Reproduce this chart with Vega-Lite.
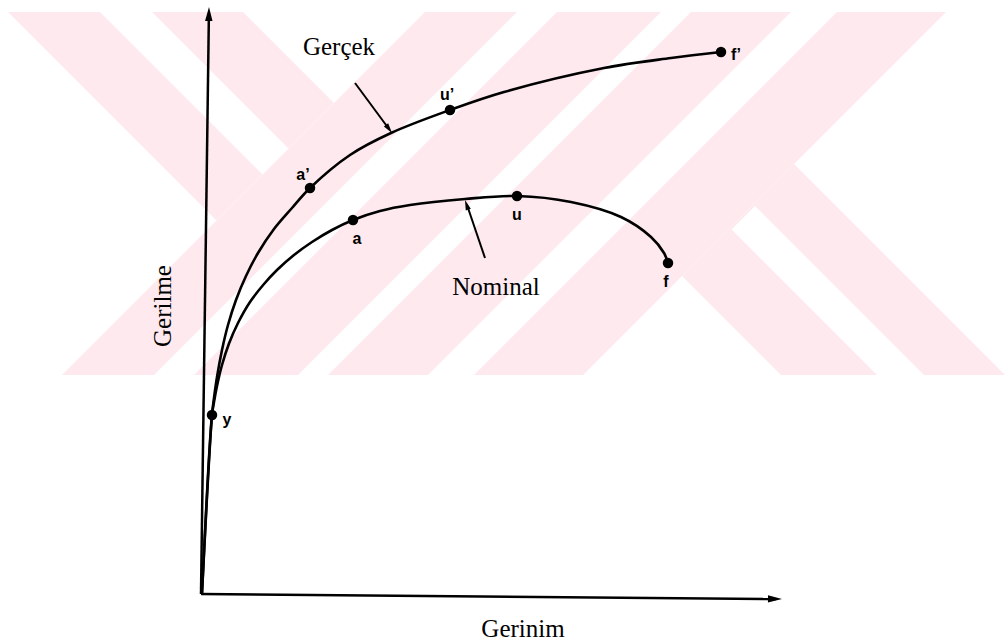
{
  "$schema": "https://vega.github.io/schema/vega-lite/v6.json",
  "width": 1008,
  "height": 643,
  "autosize": {"type": "fit", "contains": "padding"},
  "padding": 0,
  "background": "white",
  "config": {"view": {"stroke": null}},
  "datasets": {
    "watermarkBands": [
      {"part": "A", "stress": 582, "left": 224, "right": 745},
      {"part": "A", "stress": 219, "left": -139, "right": 382},
      {"part": "B", "stress": 582, "left": -193, "right": 42},
      {"part": "B", "stress": 491, "left": -102, "right": 133},
      {"part": "B", "stress": 373.5, "left": 15.5, "right": 15.5},
      {"part": "C", "stress": 430, "left": 593, "right": 593},
      {"part": "C", "stress": 318, "left": 481, "right": 705},
      {"part": "C", "stress": 219, "left": 580, "right": 804}
    ],
    "watermarkGaps": [
      {"part": "W1", "stress": 582, "left": 316, "right": 356},
      {"part": "W1", "stress": 219, "left": -47, "right": -7},
      {"part": "W2", "stress": 582, "left": 460, "right": 490},
      {"part": "W2", "stress": 219, "left": 97, "right": 127},
      {"part": "W3", "stress": 582, "left": 590, "right": 636},
      {"part": "W3", "stress": 219, "left": 227, "right": 273},
      {"part": "W4", "stress": 582, "left": -101, "right": -49},
      {"part": "W4", "stress": 445.5, "left": 35.5, "right": 87.5},
      {"part": "W4", "stress": 419.5, "left": 61.5, "right": 61.5},
      {"part": "W5", "stress": 388, "left": 554, "right": 554},
      {"part": "W5", "stress": 364.5, "left": 530.5, "right": 577.5},
      {"part": "W5", "stress": 219, "left": 676, "right": 723}
    ],
    "axes": [
      {"axis": "stress", "strain": 0, "stress": 0},
      {"axis": "stress", "strain": 7.9, "stress": 580},
      {"axis": "strain", "strain": 0, "stress": 0},
      {"axis": "strain", "strain": 575, "stress": -5}
    ],
    "arrowTips": [
      {"arrow": "stress", "strain": 8, "stress": 587},
      {"arrow": "strain", "strain": 581, "stress": -5},
      {"arrow": "Gerçek", "strain": 191, "stress": 461},
      {"arrow": "Nominal", "strain": 264, "stress": 394}
    ],
    "pointers": [
      {"arrow": "Gerçek", "strain": 154, "stress": 511},
      {"arrow": "Gerçek", "strain": 188, "stress": 465},
      {"arrow": "Nominal", "strain": 284, "stress": 336},
      {"arrow": "Nominal", "strain": 266, "stress": 389}
    ],
    "curves": [
      {"curve": "Gerçek", "strain": 1, "stress": 1},
      {"curve": "Gerçek", "strain": 11, "stress": 179},
      {"curve": "Gerçek", "strain": 13, "stress": 196},
      {"curve": "Gerçek", "strain": 16, "stress": 217},
      {"curve": "Gerçek", "strain": 21, "stress": 244},
      {"curve": "Gerçek", "strain": 27, "stress": 269},
      {"curve": "Gerçek", "strain": 35, "stress": 294},
      {"curve": "Gerçek", "strain": 45, "stress": 318},
      {"curve": "Gerçek", "strain": 57, "stress": 341},
      {"curve": "Gerçek", "strain": 73, "stress": 365},
      {"curve": "Gerçek", "strain": 91, "stress": 386},
      {"curve": "Gerçek", "strain": 109, "stress": 406},
      {"curve": "Gerçek", "strain": 149, "stress": 439},
      {"curve": "Gerçek", "strain": 190, "stress": 461},
      {"curve": "Gerçek", "strain": 249, "stress": 484},
      {"curve": "Gerçek", "strain": 303, "stress": 502},
      {"curve": "Gerçek", "strain": 403, "stress": 526},
      {"curve": "Gerçek", "strain": 470, "stress": 536},
      {"curve": "Gerçek", "strain": 520, "stress": 542},
      {"curve": "Nominal", "strain": 1, "stress": 1},
      {"curve": "Nominal", "strain": 11, "stress": 179},
      {"curve": "Nominal", "strain": 13, "stress": 192},
      {"curve": "Nominal", "strain": 16, "stress": 208},
      {"curve": "Nominal", "strain": 21, "stress": 229},
      {"curve": "Nominal", "strain": 28, "stress": 250.5},
      {"curve": "Nominal", "strain": 37, "stress": 271},
      {"curve": "Nominal", "strain": 49, "stress": 292},
      {"curve": "Nominal", "strain": 63, "stress": 310},
      {"curve": "Nominal", "strain": 76, "stress": 324},
      {"curve": "Nominal", "strain": 93, "stress": 339},
      {"curve": "Nominal", "strain": 111, "stress": 352},
      {"curve": "Nominal", "strain": 131, "stress": 364},
      {"curve": "Nominal", "strain": 152, "stress": 374},
      {"curve": "Nominal", "strain": 179, "stress": 383},
      {"curve": "Nominal", "strain": 209, "stress": 389},
      {"curve": "Nominal", "strain": 264, "stress": 395},
      {"curve": "Nominal", "strain": 316, "stress": 398},
      {"curve": "Nominal", "strain": 370, "stress": 392},
      {"curve": "Nominal", "strain": 420, "stress": 377},
      {"curve": "Nominal", "strain": 450, "stress": 357},
      {"curve": "Nominal", "strain": 463, "stress": 341},
      {"curve": "Nominal", "strain": 467, "stress": 331}
    ],
    "markers": [
      {"label": "y", "strain": 11, "stress": 179, "labelStrain": 26, "labelStress": 174},
      {"label": "a’", "strain": 109, "stress": 406, "labelStrain": 102, "labelStress": 419},
      {"label": "u’", "strain": 249, "stress": 484, "labelStrain": 246, "labelStress": 499},
      {"label": "f’", "strain": 520, "stress": 542, "labelStrain": 535, "labelStress": 539},
      {"label": "a", "strain": 152, "stress": 374, "labelStrain": 156, "labelStress": 355},
      {"label": "u", "strain": 316, "stress": 398, "labelStrain": 316, "labelStress": 379},
      {"label": "f", "strain": 467, "stress": 331, "labelStrain": 465, "labelStress": 312}
    ],
    "captions": [
      {"text": "Gerçek", "strain": 138, "stress": 539},
      {"text": "Nominal", "strain": 295, "stress": 299},
      {"text": "Gerinim", "strain": 322, "stress": -43}
    ],
    "yCaption": [
      {"text": "Gerilme", "strain": -30, "stress": 288}
    ]
  },
  "layer": [
    {
      "data": {"name": "watermarkBands"},
      "mark": {"type": "area", "orient": "horizontal", "color": "#fde9ee", "opacity": 1},
      "encoding": {
        "y": {"field": "stress", "type": "quantitative", "scale": {"domain": [-49, 594], "nice": false, "zero": false}, "axis": null},
        "x": {"field": "left", "type": "quantitative", "scale": {"domain": [-201, 807], "nice": false, "zero": false}, "axis": null},
        "x2": {"field": "right"},
        "detail": {"field": "part", "type": "nominal"}
      }
    },
    {
      "data": {"name": "watermarkGaps"},
      "mark": {"type": "area", "orient": "horizontal", "color": "#ffffff", "opacity": 1},
      "encoding": {
        "y": {"field": "stress", "type": "quantitative", "scale": {"domain": [-49, 594], "nice": false, "zero": false}, "axis": null},
        "x": {"field": "left", "type": "quantitative", "scale": {"domain": [-201, 807], "nice": false, "zero": false}, "axis": null},
        "x2": {"field": "right"},
        "detail": {"field": "part", "type": "nominal"}
      }
    },
    {
      "data": {"name": "axes"},
      "mark": {"type": "line", "color": "#000000", "strokeWidth": 2.5, "strokeCap": "butt"},
      "encoding": {
        "x": {"field": "strain", "type": "quantitative", "scale": {"domain": [-201, 807], "nice": false, "zero": false}, "axis": null},
        "y": {"field": "stress", "type": "quantitative", "scale": {"domain": [-49, 594], "nice": false, "zero": false}, "axis": null},
        "detail": {"field": "axis", "type": "nominal"}
      }
    },
    {
      "data": {"name": "arrowTips"},
      "transform": [{"filter": "datum.arrow === 'stress'"}],
      "mark": {"type": "point", "shape": "M0,0L0.4,1.5L-0.4,1.5Z", "filled": true, "color": "#000000", "opacity": 1, "size": 350, "angle": 0.8, "strokeWidth": 0},
      "encoding": {
        "x": {"field": "strain", "type": "quantitative", "scale": {"domain": [-201, 807], "nice": false, "zero": false}, "axis": null},
        "y": {"field": "stress", "type": "quantitative", "scale": {"domain": [-49, 594], "nice": false, "zero": false}, "axis": null}
      }
    },
    {
      "data": {"name": "arrowTips"},
      "transform": [{"filter": "datum.arrow === 'strain'"}],
      "mark": {"type": "point", "shape": "M0,0L0.4,1.5L-0.4,1.5Z", "filled": true, "color": "#000000", "opacity": 1, "size": 350, "angle": 90.5, "strokeWidth": 0},
      "encoding": {
        "x": {"field": "strain", "type": "quantitative", "scale": {"domain": [-201, 807], "nice": false, "zero": false}, "axis": null},
        "y": {"field": "stress", "type": "quantitative", "scale": {"domain": [-49, 594], "nice": false, "zero": false}, "axis": null}
      }
    },
    {
      "data": {"name": "curves"},
      "mark": {"type": "line", "color": "#000000", "strokeWidth": 2.6, "interpolate": "catmull-rom"},
      "encoding": {
        "x": {"field": "strain", "type": "quantitative", "scale": {"domain": [-201, 807], "nice": false, "zero": false}, "axis": null},
        "y": {"field": "stress", "type": "quantitative", "scale": {"domain": [-49, 594], "nice": false, "zero": false}, "axis": null},
        "detail": {"field": "curve", "type": "nominal"}
      }
    },
    {
      "data": {"name": "pointers"},
      "mark": {"type": "line", "color": "#000000", "strokeWidth": 2, "strokeCap": "butt"},
      "encoding": {
        "x": {"field": "strain", "type": "quantitative", "scale": {"domain": [-201, 807], "nice": false, "zero": false}, "axis": null},
        "y": {"field": "stress", "type": "quantitative", "scale": {"domain": [-49, 594], "nice": false, "zero": false}, "axis": null},
        "detail": {"field": "arrow", "type": "nominal"}
      }
    },
    {
      "data": {"name": "arrowTips"},
      "transform": [{"filter": "datum.arrow === 'Gerçek'"}],
      "mark": {"type": "point", "shape": "M0,0L0.4,1.5L-0.4,1.5Z", "filled": true, "color": "#000000", "opacity": 1, "size": 180, "angle": 143.5, "strokeWidth": 0},
      "encoding": {
        "x": {"field": "strain", "type": "quantitative", "scale": {"domain": [-201, 807], "nice": false, "zero": false}, "axis": null},
        "y": {"field": "stress", "type": "quantitative", "scale": {"domain": [-49, 594], "nice": false, "zero": false}, "axis": null}
      }
    },
    {
      "data": {"name": "arrowTips"},
      "transform": [{"filter": "datum.arrow === 'Nominal'"}],
      "mark": {"type": "point", "shape": "M0,0L0.4,1.5L-0.4,1.5Z", "filled": true, "color": "#000000", "opacity": 1, "size": 180, "angle": 341, "strokeWidth": 0},
      "encoding": {
        "x": {"field": "strain", "type": "quantitative", "scale": {"domain": [-201, 807], "nice": false, "zero": false}, "axis": null},
        "y": {"field": "stress", "type": "quantitative", "scale": {"domain": [-49, 594], "nice": false, "zero": false}, "axis": null}
      }
    },
    {
      "data": {"name": "markers"},
      "mark": {"type": "point", "shape": "circle", "filled": true, "color": "#000000", "opacity": 1, "size": 110},
      "encoding": {
        "x": {"field": "strain", "type": "quantitative", "scale": {"domain": [-201, 807], "nice": false, "zero": false}, "axis": null},
        "y": {"field": "stress", "type": "quantitative", "scale": {"domain": [-49, 594], "nice": false, "zero": false}, "axis": null}
      }
    },
    {
      "data": {"name": "markers"},
      "mark": {"type": "text", "font": "Liberation Sans", "fontWeight": "bold", "fontSize": 16, "align": "center", "baseline": "middle", "color": "#000000"},
      "encoding": {
        "x": {"field": "labelStrain", "type": "quantitative", "scale": {"domain": [-201, 807], "nice": false, "zero": false}, "axis": null},
        "y": {"field": "labelStress", "type": "quantitative", "scale": {"domain": [-49, 594], "nice": false, "zero": false}, "axis": null},
        "text": {"field": "label"}
      }
    },
    {
      "data": {"name": "captions"},
      "mark": {"type": "text", "font": "Liberation Serif", "fontSize": 25, "align": "center", "baseline": "alphabetic", "color": "#000000"},
      "encoding": {
        "x": {"field": "strain", "type": "quantitative", "scale": {"domain": [-201, 807], "nice": false, "zero": false}, "axis": null},
        "y": {"field": "stress", "type": "quantitative", "scale": {"domain": [-49, 594], "nice": false, "zero": false}, "axis": null},
        "text": {"field": "text"}
      }
    },
    {
      "data": {"name": "yCaption"},
      "mark": {"type": "text", "font": "Liberation Serif", "fontSize": 25, "align": "center", "baseline": "alphabetic", "angle": 270, "color": "#000000"},
      "encoding": {
        "x": {"field": "strain", "type": "quantitative", "scale": {"domain": [-201, 807], "nice": false, "zero": false}, "axis": null},
        "y": {"field": "stress", "type": "quantitative", "scale": {"domain": [-49, 594], "nice": false, "zero": false}, "axis": null},
        "text": {"field": "text"}
      }
    }
  ]
}
